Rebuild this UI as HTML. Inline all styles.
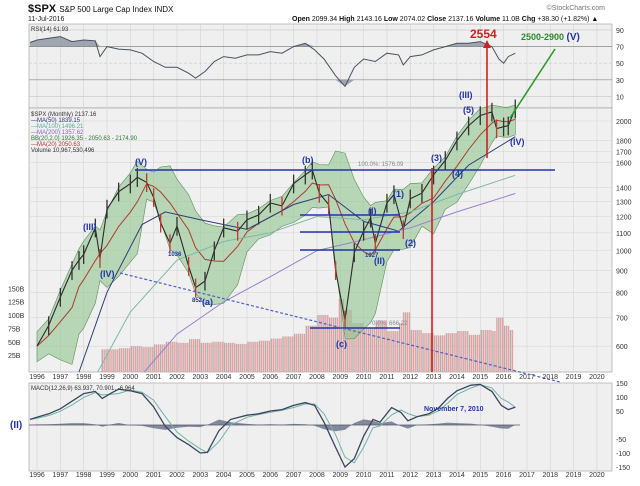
<!DOCTYPE html>
<html><head><meta charset="utf-8"><style>
body{margin:0;background:#fff;width:640px;height:481px;overflow:hidden;font-family:"Liberation Sans",sans-serif}
svg text{font-family:"Liberation Sans",sans-serif}
</style></head><body>
<svg id="c" width="640" height="481" viewBox="0 0 640 481">
<g>
<text x="28" y="12" font-size="11" font-weight="bold" fill="#111">$SPX <tspan font-size="8" font-weight="normal">S&amp;P 500 Large Cap Index  INDX</tspan></text>
<text x="28" y="21" font-size="7" fill="#222">11-Jul-2016</text>
<text x="605" y="10" font-size="7" fill="#777" text-anchor="end">©StockCharts.com</text>
<text x="292" y="21" font-size="7" fill="#111"><tspan font-weight="bold">Open</tspan> 2099.34 <tspan font-weight="bold">High</tspan> 2143.16 <tspan font-weight="bold">Low</tspan> 2074.02 <tspan font-weight="bold">Close</tspan> 2137.16 <tspan font-weight="bold">Volume</tspan> 11.0B <tspan font-weight="bold">Chg</tspan> +38.30 (+1.82%) ▲</text>
</g>
<rect x="29" y="24" width="583" height="84" fill="#efefef" stroke="#999" stroke-width="0.6"/>
<rect x="29" y="108" width="583" height="264" fill="#f0f0f0" stroke="#999" stroke-width="0.6"/>
<rect x="29" y="383" width="583" height="88" fill="#efefef" stroke="#999" stroke-width="0.6"/>
<g id="grid"></g>
<g id="rsi"></g>
<g id="price"></g>
<g id="macd"></g>
</svg>
<script>
const years=[1996,1997,1998,1999,2000,2001,2002,2003,2004,2005,2006,2007,2008,2009,2010,2011,2012,2013,2014,2015,2016,2017,2018,2019,2020];
const priceDates=[1996.0,1996.5,1997.0,1997.5,1997.8,1998.0,1998.5,1998.7,1999.0,1999.5,2000.0,2000.3,2000.7,2001.0,2001.3,2001.7,2002.0,2002.5,2002.8,2003.2,2003.6,2004.0,2004.6,2005.0,2005.5,2006.0,2006.5,2007.0,2007.5,2007.8,2008.1,2008.5,2008.8,2009.2,2009.6,2010.0,2010.3,2010.5,2011.0,2011.3,2011.7,2012.0,2012.5,2013.0,2013.5,2014.0,2014.5,2015.0,2015.5,2015.7,2016.0,2016.2,2016.5];
const priceClose=[600,670,780,900,950,980,1130,960,1250,1370,1430,1480,1440,1330,1160,1040,1140,920,820,850,1000,1130,1110,1180,1210,1290,1270,1430,1500,1540,1360,1280,900,690,990,1110,1190,1040,1290,1350,1120,1320,1360,1500,1620,1800,1950,2060,2100,1920,1940,1950,2137];
const ma50Dates=[1997.8,1999,2000.5,2001.5,2003,2005,2007,2008.5,2010,2011.5,2013,2014.5,2016.5];
const ma50Val=[520,800,1150,1230,1180,1120,1280,1350,1170,1110,1300,1580,1839];
const ma100Dates=[1998.6,2000,2002,2004,2006,2008,2010,2012,2014,2016.5];
const ma100Val=[520,720,950,1050,1100,1200,1180,1230,1350,1496];
const ma200Dates=[2000.6,2002,2004,2006,2008,2010,2012,2014,2016.5];
const ma200Val=[520,640,760,870,1000,1060,1130,1230,1357];
const volDates=[1998.8,1999.5,2000.0,2000.5,2001.0,2001.5,2002.0,2002.5,2003.0,2003.5,2004.0,2004.5,2005.0,2005.5,2006.0,2006.5,2007.0,2007.5,2008.0,2008.5,2008.9,2009.2,2009.5,2010.0,2010.5,2011.0,2011.5,2011.7,2012.0,2012.5,2013.0,2013.5,2014.0,2014.5,2015.0,2015.5,2015.7,2016.0,2016.3];
const volB=[36,38,42,40,45,50,48,55,48,50,48,46,50,52,56,60,65,80,100,95,130,110,85,75,90,70,85,105,72,66,62,66,70,63,72,70,95,80,72];
const rsiDates=[1995.7,1996.0,1996.5,1997.0,1997.5,1998.0,1998.5,1998.7,1999.0,1999.5,2000.0,2000.5,2001.0,2001.5,2002.0,2002.5,2002.8,2003.2,2003.6,2004.0,2004.5,2005.0,2005.5,2006.0,2006.5,2007.0,2007.5,2007.9,2008.3,2008.8,2009.2,2009.6,2010.0,2010.5,2011.0,2011.5,2011.7,2012.0,2012.5,2013.0,2013.5,2014.0,2014.5,2015.0,2015.5,2015.8,2016.0,2016.2,2016.5];
const rsiVal=[75,78,80,82,76,78,77,58,70,67,66,62,52,45,45,38,32,40,52,58,56,60,60,64,62,70,74,66,55,35,22,45,55,52,62,60,48,58,60,66,70,74,74,76,70,55,50,58,62];
const macdDates=[1995.7,1996.0,1996.5,1997.0,1997.5,1998.0,1998.5,1998.8,1999.2,1999.5,2000.0,2000.5,2001.0,2001.5,2002.0,2002.5,2003.0,2003.3,2003.8,2004.3,2005.0,2005.5,2006.0,2006.5,2007.0,2007.5,2007.9,2008.3,2008.8,2009.2,2009.6,2010.0,2010.4,2010.7,2011.2,2011.6,2011.9,2012.3,2012.8,2013.2,2013.6,2014.0,2014.6,2015.0,2015.5,2015.9,2016.2,2016.5];
const macdVal=[20,28,40,58,85,112,120,95,115,128,122,112,65,-5,-45,-70,-100,-98,-20,20,35,40,50,55,70,80,70,10,-80,-150,-120,-40,20,10,62,45,15,30,40,60,95,122,142,145,120,70,55,64];
const priceTicks=[600,700,800,900,1000,1100,1200,1300,1400,1600,1700,1800,2000];
const volTicks=[25,50,75,100,125,150];
const rsiTicks=[10,30,50,70,90];
const macdTicks=[-150,-100,-50,50,100,150];

const NS="http://www.w3.org/2000/svg";
const X=d=>37+(d-1996)*23.33;
const YP=p=>121-187*Math.log(p/2000);
const YV=v=>368.5-v*0.535;
const YR=r=>30+(90-r)*0.83;
const YM=m=>425-m*0.28;
function mk(p,tag,at){const e=document.createElementNS(NS,tag);for(const k in at)e.setAttribute(k,at[k]);document.getElementById(p).appendChild(e);return e;}
function txt(p,x,y,s,at){const e=mk(p,'text',Object.assign({x:x,y:y},at));e.textContent=s;return e;}
function pts(ds,vs,fx,fy){return ds.map((d,i)=>fx(d).toFixed(1)+','+fy(vs[i]).toFixed(1)).join(' ');}
const YPc=p=>Math.min(372,YP(p));

years.forEach(y=>{
 [[24,108],[108,372],[383,471]].forEach(r=>{const l=mk('grid','line',{x1:X(y),x2:X(y),y1:r[0],y2:r[1],stroke:'#d4d4d4','stroke-width':0.6});
 });
 [379,477].forEach(yy=>{const t=txt('grid',X(y),yy,String(y),{'font-size':7,fill:'#333','text-anchor':'middle'});
 });
});
priceTicks.forEach(p=>{const l=mk('grid','line',{x1:29,x2:612,y1:YP(p),y2:YP(p),stroke:'#d8d8d8','stroke-width':0.6});
 
 const t=txt('grid',616,YP(p)+3,String(p),{'font-size':7,fill:'#333'});
 });
volTicks.forEach(v=>{const t=txt('grid',8,YV(v)+3,v+'B',{'font-size':7,fill:'#333'});
 });
rsiTicks.forEach(r=>{const l=mk('grid','line',{x1:29,x2:612,y1:YR(r),y2:YR(r),stroke:(r==30||r==70)?'#888':'#ccc','stroke-width':0.7,'stroke-dasharray':r==50?'3,2':'none'});
 
 const t=txt('grid',616,YR(r)+3,String(r),{'font-size':7,fill:'#333'});
 });
macdTicks.forEach(m=>{const t=txt('grid',616,YM(m)+3,String(m),{'font-size':7,fill:'#333'});
 });

let rl=mk('rsi','polygon',{points:X(rsiDates[0])+','+YR(70)+' '+pts(rsiDates,rsiVal.map(v=>Math.max(v,70)),X,YR)+' '+X(rsiDates[rsiDates.length-1])+','+YR(70),fill:'#7d8796',opacity:0.7});

rl=mk('rsi','polygon',{points:X(rsiDates[0])+','+YR(30)+' '+pts(rsiDates,rsiVal.map(v=>Math.min(v,30)),X,YR)+' '+X(rsiDates[rsiDates.length-1])+','+YR(30),fill:'#7d8796',opacity:0.7});

rl=mk('rsi','polyline',{points:pts(rsiDates,rsiVal,X,YR),fill:'none',stroke:'#4a5060','stroke-width':1});

let t=txt('rsi',31,31,'RSI(14) 61.93',{'font-size':6,fill:'#333'});

for(let m=0;m<212;m++){const d=1998.8+m/12;let v=volB[0];volDates.forEach((e,i)=>{if(e<=d)v=volB[i];});
 const b=mk('price','rect',{x:X(d)-0.8,y:YV(v),width:1.4,height:372-YV(v),fill:m%3==0?'#b0b0b0':'#e6a0a0'});
 }

const up=[],lo=[],mid=[];
priceDates.forEach((d,i)=>{let a=[];priceDates.forEach((e,j)=>{if(e<=d&&e>d-1.7)a.push(priceClose[j]);});
 const m=a.reduce((s,v)=>s+v,0)/a.length;const sd=Math.sqrt(a.reduce((s,v)=>s+(v-m)*(v-m),0)/a.length);
 const w=Math.max(sd*1.7,m*0.08);up.push(m+w);lo.push(Math.max(m-w,300));mid.push(m);});
let bb=mk('price','polygon',{points:pts(priceDates,up,X,YP)+' '+pts(priceDates.slice().reverse(),lo.slice().reverse(),X,YPc),fill:'#8fc48f','fill-opacity':0.6,stroke:'#5a8f5a','stroke-width':0.6});

[[priceDates,mid,'#b03a2e','ma20-line'],[ma50Dates,ma50Val,'#2f3d7a','ma50-line'],[ma100Dates,ma100Val,'#7fb8a8','ma100-line'],[ma200Dates,ma200Val,'#9a7fd0','ma200-line']].forEach(s=>{
 const l=mk('price','polyline',{points:pts(s[0],s[1],X,YPc),fill:'none',stroke:s[2],'stroke-width':1});
 });
let pl=mk('price','polyline',{points:pts(priceDates,priceClose,X,YP),fill:'none',stroke:'#2a2a2a','stroke-width':1.1});

priceDates.forEach((d,i)=>{if(i==0)return;const c=mk('price','line',{x1:X(d),x2:X(d),y1:YP(priceClose[i]*1.05),y2:YP(priceClose[i]*0.95),stroke:priceClose[i]<priceClose[i-1]?'#c0392b':'#333','stroke-width':1.3});
 });

const sig=macdDates.map(d=>{let s=0,n=0;macdDates.forEach((e,j)=>{if(e<=d&&e>d-0.8){s+=macdVal[j];n++;}});return s/n;});
const hist=macdVal.map((v,i)=>(v-sig[i])*0.5);
let hp=mk('macd','polygon',{points:X(macdDates[0])+','+YM(0)+' '+pts(macdDates,hist,X,YM)+' '+X(macdDates[macdDates.length-1])+','+YM(0),fill:'#5c6880',opacity:0.75});

let zl=mk('macd','line',{x1:29,x2:520,y1:YM(0),y2:YM(0),stroke:'#556','stroke-width':0.8});
let sl=mk('macd','polyline',{points:pts(macdDates,sig,X,YM),fill:'none',stroke:'#6fb3a8','stroke-width':1});

let ml=mk('macd','polyline',{points:pts(macdDates,macdVal,X,YM),fill:'none',stroke:'#3a4560','stroke-width':1.3});

t=txt('macd',31,390,'MACD(12,26,9) 63.937, 70.901, -6.964',{'font-size':6,fill:'#333'});
</script>
<svg width="640" height="481" style="position:absolute;left:0;top:0">
<g font-size="6" fill="#333">
<text x="31" y="116">$SPX (Monthly) 2137.16</text>
<text x="31" y="122" fill="#2f3d7a">—MA(50) 1839.15</text>
<text x="31" y="128" fill="#5a9">—MA(100) 1496.21</text>
<text x="31" y="134" fill="#86c">—MA(200) 1357.62</text>
<text x="31" y="140" fill="#373">BB(20,2.0) 1926.35 - 2050.63 - 2174.90</text>
<text x="31" y="146" fill="#b03a2e">—MA(20) 2050.63</text>
<text x="31" y="152">Volume 10,967,530,496</text>
</g>
<line x1="135" y1="170" x2="555" y2="170" stroke="#2233aa" stroke-width="1.6"/>
<line x1="300" y1="215" x2="400" y2="215" stroke="#2233aa" stroke-width="1.4"/>
<line x1="300" y1="232" x2="400" y2="232" stroke="#2233aa" stroke-width="1.4"/>
<line x1="300" y1="250" x2="400" y2="250" stroke="#2233aa" stroke-width="1.4"/>
<line x1="310" y1="328" x2="400" y2="328" stroke="#2233aa" stroke-width="1.4"/>
<line x1="120" y1="273" x2="560" y2="382" stroke="#5060c0" stroke-width="1.2" stroke-dasharray="3,2"/>
<line x1="432" y1="168" x2="432" y2="372" stroke="#d02020" stroke-width="1.6"/>
<line x1="487" y1="46" x2="487" y2="158" stroke="#d02020" stroke-width="1.6"/>
<polygon points="483,48 491,48 487,40" fill="#d02020"/>
<text x="470" y="38" font-size="12" font-weight="bold" fill="#d02020">2554</text>
<line x1="510" y1="118" x2="555" y2="49" stroke="#2a9a2a" stroke-width="1.6"/>
<text x="521" y="40" font-size="9" font-weight="bold" fill="#2a8a2a">2500-2900 <tspan fill="#2233aa" font-size="10">(V)</tspan></text>
<g font-weight="bold" fill="#2233aa" font-size="9">
<text x="135" y="165">(V)</text><text x="302" y="163">(b)</text><text x="83" y="230">(III)</text>
<text x="100" y="277">(IV)</text><text x="202" y="305">(a)</text><text x="336" y="347">(c)</text>
<text x="459" y="98">(III)</text><text x="463" y="113">(5)</text><text x="510" y="145">(IV)</text>
<text x="431" y="161">(3)</text><text x="452" y="177">(4)</text><text x="393" y="197">(1)</text>
<text x="368" y="214">(I)</text><text x="405" y="246">(2)</text><text x="374" y="264">(II)</text>
<text x="10" y="428" font-size="10">(II)</text>
<text x="168" y="256" font-size="6">1036</text><text x="192" y="302" font-size="6">852</text><text x="365" y="257" font-size="6">1027</text>
</g>
<text x="358" y="166" font-size="6" fill="#888">100.0%: 1576.09</text>
<text x="372" y="325" font-size="6" fill="#888">0.0%: 666.22</text>
<text x="424" y="411" font-size="7" font-weight="bold" fill="#2233aa">November 7, 2010</text>
</svg>
</body></html>
